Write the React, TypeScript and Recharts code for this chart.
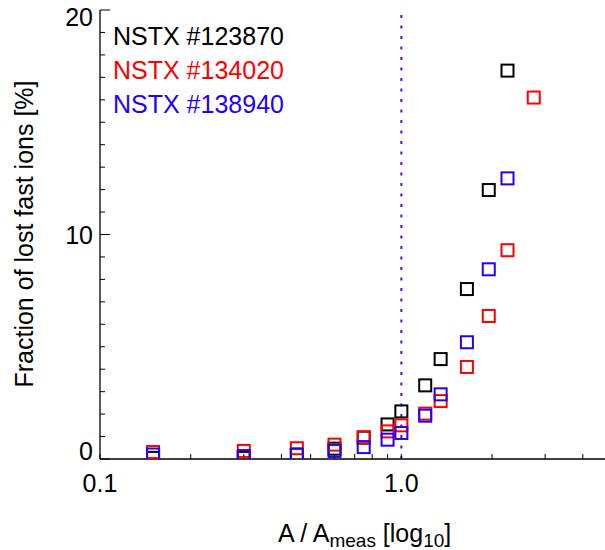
import React from "react";
import { ScatterChart, Scatter, XAxis, YAxis, ReferenceLine } from "recharts";

// A / A_meas ratios where the scan was run
const ratioA = [0.15, 0.3, 0.45, 0.6, 0.75, 0.9, 1.0, 1.2, 1.35, 1.65, 1.95, 2.25, 2.75];

// lost fast ion fraction [%] for each shot
const shot123870 = [0.05, 0.05, 0.2, 0.46, 0.95, 1.54, 2.12, 3.28, 4.45, 7.57, 11.98, 17.3];
const shot134020 = [0.31, 0.36, 0.48, 0.64, 0.97, 1.23, 1.5, 2.02, 2.58, 4.1, 6.37, 9.3, 16.1];
const shot138940 = [0.2, 0.13, 0.19, 0.36, 0.53, 0.86, 1.16, 1.93, 2.88, 5.2, 8.45, 12.5];

const xTicks = [0.1, 0.2, 0.3, 0.4, 0.5, 0.6, 0.7, 0.8, 0.9, 1, 2, 3, 4, 5];
const xTickLabels: Record<number, string> = { 0.1: "0.1", 1: "1.0" };
const yTicks = [0, 1, 2, 3, 4, 5, 6, 7, 8, 9, 10, 11, 12, 13, 14, 15, 16, 17, 18, 19, 20];
const yMajor = [0, 10, 20];

const seriesList = [
  { name: "NSTX #123870", color: "#000000", values: shot123870 },
  { name: "NSTX #134020", color: "#ff0000", values: shot134020 },
  { name: "NSTX #138940", color: "#2200ff", values: shot138940 },
];

const FONT = "'Liberation Sans', Arial, Helvetica, sans-serif";
const FS = 25;
const MARGIN_L = 7;

function makePoints(values: number[]) {
  return values.map((v, i) => ({ x: ratioA[i], y: v }));
}

function squareShape(color: string) {
  return (props: any) => {
    const { cx, cy } = props;
    if (cx == null || cy == null) return <g />;
    return (
      <rect x={cx - 6} y={cy - 6} width={12} height={12} fill="none" stroke={color} strokeWidth={2} />
    );
  };
}

function BottomTick(props: any) {
  const { x, y, payload } = props;
  const label = xTickLabels[payload.value];
  if (!label) return <g />;
  return (
    <text x={x} y={y} textAnchor="middle" fontSize={FS} fontFamily={FONT} fill="#000">
      {label}
    </text>
  );
}

function LeftTick(props: any) {
  const { x, y, payload } = props;
  const v = payload.value;
  const axisX = x + MARGIN_L;
  const major = yMajor.includes(v);
  let dy = 9;
  if (v === 20) dy = 16;
  if (v === 0) dy = 1;
  return (
    <g>
      <line x1={axisX} x2={axisX + (major ? 10 : 5)} y1={y} y2={y} stroke="#000" strokeWidth={1} />
      {major && (
        <text x={x} y={y + dy} textAnchor="end" fontSize={FS} fontFamily={FONT} fill="#000">
          {v}
        </text>
      )}
    </g>
  );
}

function RightTick(props: any) {
  const { x, y, payload } = props;
  const major = yMajor.includes(payload.value);
  return <line x1={x} x2={x - (major ? 10 : 5)} y1={y} y2={y} stroke="#000" strokeWidth={1} />;
}

export default function App() {
  return (
    <div
      style={{
        position: "fixed",
        left: 0,
        top: 0,
        width: 605,
        height: 550,
        overflow: "hidden",
        background: "#fff",
      }}
    >
      <ScatterChart width={612} height={550} margin={{ top: 10, right: 0, bottom: 0, left: 0 }}>
        <XAxis
          xAxisId={0}
          dataKey="x"
          type="number"
          scale="log"
          domain={[0.1, 5]}
          allowDataOverflow
          ticks={xTicks}
          interval={0}
          height={91}
          tickSize={-5}
          tickMargin={38}
          tickLine={{ stroke: "#000" }}
          axisLine={{ stroke: "#000", strokeWidth: 1.3 }}
          tick={<BottomTick />}
        />
        <XAxis
          xAxisId="top"
          orientation="top"
          dataKey="x"
          type="number"
          scale="log"
          domain={[0.1, 5]}
          allowDataOverflow
          ticks={xTicks}
          interval={0}
          height={0}
          tickSize={-5}
          tick={false}
          tickLine={{ stroke: "#000" }}
          axisLine={{ stroke: "#000", strokeWidth: 1.3 }}
        />
        <YAxis
          yAxisId={0}
          dataKey="y"
          type="number"
          domain={[0, 20]}
          allowDataOverflow
          ticks={yTicks}
          interval={0}
          width={100}
          tickSize={0}
          tickMargin={MARGIN_L}
          tickLine={false}
          axisLine={{ stroke: "#000", strokeWidth: 1.3 }}
          tick={<LeftTick />}
        />
        <YAxis
          yAxisId="right"
          orientation="right"
          type="number"
          domain={[0, 20]}
          allowDataOverflow
          ticks={yTicks}
          interval={0}
          width={0}
          tickSize={0}
          tickMargin={0}
          tickLine={false}
          axisLine={{ stroke: "#000", strokeWidth: 1.3 }}
          tick={<RightTick />}
        />
        <ReferenceLine
          x={1}
          xAxisId={0}
          yAxisId={0}
          stroke="#5010d0"
          strokeWidth={2}
          strokeDasharray="3 7.5"
        />
        {seriesList.map((s) => (
          <Scatter
            key={s.name}
            name={s.name}
            data={makePoints(s.values)}
            xAxisId={0}
            yAxisId={0}
            shape={squareShape(s.color)}
            isAnimationActive={false}
          />
        ))}
      </ScatterChart>
      <svg
        width={605}
        height={550}
        style={{ position: "absolute", left: 0, top: 0, pointerEvents: "none" }}
      >
        {seriesList.map((s, i) => (
          <text key={s.name} x={113} y={45 + i * 34} fontSize={FS} fontFamily={FONT} fill={s.color}>
            {s.name}
          </text>
        ))}
        <text
          transform="translate(33, 234) rotate(-90)"
          textAnchor="middle"
          fontSize={FS}
          fontFamily={FONT}
          fill="#000"
        >
          Fraction of lost fast ions [%]
        </text>
        <text x={278} y={542} fontSize={FS} fontFamily={FONT} fill="#000">
          A / A
          <tspan fontSize={19} dy={5}>
            meas
          </tspan>
          <tspan dy={-5}> [log</tspan>
          <tspan fontSize={19} dy={5}>
            10
          </tspan>
          <tspan dy={-5}>]</tspan>
        </text>
      </svg>
    </div>
  );
}
